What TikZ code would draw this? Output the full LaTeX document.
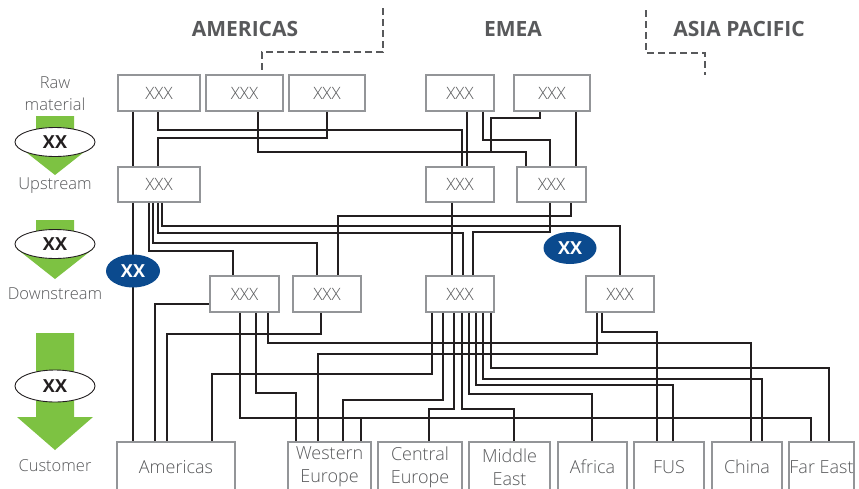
\documentclass[tikz,border=0pt]{standalone}
\usepackage{fontspec}
\setmainfont{Open Sans}
\newfontfamily\thinfont{Open Sans Light}
\usetikzlibrary{shapes.geometric}
\definecolor{textgrey}{HTML}{58595B}
\definecolor{boxgrey}{HTML}{939598}
\definecolor{wire}{HTML}{231F20}
\definecolor{flowgreen}{HTML}{7DC242}
\definecolor{navy}{HTML}{0B4A8E}

\begin{document}
\begin{tikzpicture}[x=1pt,y=-1pt,
  unit/.style={draw=boxgrey, line width=1.8pt, fill=white, minimum height=36pt,
    inner sep=0pt, font=\thinfont\fontsize{17}{17}\selectfont, text=textgrey},
  cust/.style={draw=boxgrey, line width=1.8pt, fill=white, minimum height=50pt,
    inner sep=0pt, align=center, font=\thinfont\fontsize{18}{23}\selectfont, text=textgrey},
  link/.style={draw=wire, line width=1.1pt},
  region/.style={font=\bfseries\fontsize{21}{21}\selectfont, text=textgrey, anchor=base},
  divider/.style={draw=textgrey, line width=1.5pt, dash pattern=on 7pt off 4pt},
  stage/.style={font=\thinfont\fontsize{16.5}{16.5}\selectfont, text=textgrey, anchor=base},
  badge/.style={ellipse, draw=wire, line width=0.9pt, fill=white, minimum width=80pt,
    minimum height=29pt, inner sep=0pt, font=\bfseries\fontsize{18}{18}\selectfont, text=wire},
  bluebadge/.style={ellipse, fill=navy, minimum width=54pt, minimum height=33pt,
    inner sep=0pt, font=\bfseries\fontsize{18}{18}\selectfont, text=white}
]
\useasboundingbox (0,0) rectangle (859,488);
\clip (0,0) rectangle (859,488);

% region headings and dashed separators
\node[region] (hAm) at (245,36) {AMERICAS};
\node[region] (hEm) at (513,36) {EMEA};
\node[region] (hAp) at (739,36) {ASIA PACIFIC};
\draw[divider] (383,8) |- (262,52) -- (262,70);
\draw[divider] (646,10) |- (705,53) -- (705,75);

% stage labels
\node[stage] (lRaw) at (55,88) {Raw};
\node[stage] (lMat) at (55,110) {material};
\node[stage] (lUp) at (55,189) {Upstream};
\node[stage] (lDown) at (55,299) {Downstream};
\node[stage] (lCust) at (55,471) {Customer};

% green flow arrows
\fill[flowgreen] (36,116) -- (74,116) -- (74,145) -- (93,145) -- (55,175) -- (17,145) -- (36,145) -- cycle;
\fill[flowgreen] (36,220) -- (74,220) -- (74,249) -- (93,249) -- (55,279) -- (17,249) -- (36,249) -- cycle;
\fill[flowgreen] (36,333) -- (74,333) -- (74,417) -- (93,417) -- (55,450) -- (17,417) -- (36,417) -- cycle;
\node[badge] (b1) at (55,142) {XX};
\node[badge] (b2) at (55,244) {XX};
\node[badge, minimum height=32pt] (b3) at (55,386) {XX};

% raw material units
\node[unit, minimum width=82pt] (A1) at (159,93) {XXX};
\node[unit, minimum width=77pt] (A2) at (244.5,93) {XXX};
\node[unit, minimum width=76pt] (A3) at (327,93) {XXX};
\node[unit, minimum width=68pt] (E1) at (460,93) {XXX};
\node[unit, minimum width=76pt] (E2) at (552,93) {XXX};

% upstream units
\node[unit, minimum width=82pt, minimum height=35pt] (Aup) at (159,184.5) {XXX};
\node[unit, minimum width=68pt, minimum height=35pt] (Eup1) at (460,184.5) {XXX};
\node[unit, minimum width=69pt, minimum height=35pt] (Eup2) at (551.5,184.5) {XXX};

% downstream units
\node[unit, minimum width=69pt] (D1) at (244.5,294) {XXX};
\node[unit, minimum width=68pt] (D2) at (327,294) {XXX};
\node[unit, minimum width=68pt] (Edown) at (460,294) {XXX};
\node[unit, minimum width=68pt] (APdown) at (620,294) {XXX};

% customer markets
\node[cust, minimum width=118pt] (Americas) at (176,467) {Americas};
\node[cust, minimum width=83pt] (WE) at (329.5,467) {Western\\Europe};
\node[cust, minimum width=84pt] (CE) at (420,467) {Central\\Europe};
\node[cust, minimum width=81pt] (ME) at (509.5,467) {Middle\\East};
\node[cust, minimum width=69pt] (Africa) at (592.5,467) {Africa};
\node[cust, minimum width=70pt] (FUS) at (669,467) {FUS};
\node[cust, minimum width=70pt] (China) at (747,467) {China};
\node[cust, minimum width=65pt] (FarEast) at (821.5,467) {Far East};

% raw material -> upstream
\draw[link] ([xshift=-26pt]A1.south) -- ([xshift=-26pt]Aup.north);
\draw[link] ([xshift=-1pt]A1.south) |- (462,130) -- ([xshift=2pt]Eup1.north);
\draw[link] (A3.south) |- (158,138) -- ([xshift=-1pt]Aup.north);
\draw[link] ([xshift=13.5pt]A2.south) |- (526,152) -- ([xshift=-25.5pt]Eup2.north);
\draw[link] ([xshift=7pt]E1.south) -- ([xshift=7pt]Eup1.north);
\draw[link] ([xshift=23pt]E1.south) |- (550,140) -- ([xshift=-1.5pt]Eup2.north);
\draw[link] ([xshift=-12pt]E2.south) |- (491,118) |- (526,152) -- ([xshift=-25.5pt]Eup2.north);
\draw[link] ([xshift=24pt]E2.south) -- ([xshift=24.5pt]Eup2.north);

% upstream -> downstream
\draw[link] ([xshift=-26pt]Aup.south) -- ([xshift=-43pt]Americas.north);
\draw[link] ([xshift=-10pt]Aup.south) |- (233,251) -- ([xshift=-11.5pt]D1.north);
\draw[link] ([xshift=-6pt]Aup.south) |- (317,243) -- ([xshift=-10pt]D2.north);
\draw[link] ([xshift=-1pt]Aup.south) |- (463,233) -- ([xshift=3pt]Edown.north);
\draw[link] ([xshift=3pt]Aup.south) |- (620,226) -- (APdown.north);
\draw[link] ([xshift=-8pt]Eup1.south) -- ([xshift=-8pt]Edown.north);
\draw[link] ([xshift=19.5pt]Eup2.south) |- (338,216) -- ([xshift=11pt]D2.north);
\draw[link] ([xshift=-1.5pt]Eup2.south) |- (473,232) -- ([xshift=13pt]Edown.north);

% downstream -> customers
\draw[link] ([yshift=-10pt]D1.west) -| ([xshift=-21pt]Americas.north);
\draw[link] ([xshift=-6pt]D2.south) |- (167,334) -- ([xshift=-9pt]Americas.north);
\draw[link] ([xshift=23.5pt]D1.south) |- (751,343) -- ([xshift=4pt]China.north);
\draw[link] ([xshift=11.5pt]D1.south) |- (296,393) -- ([xshift=-33.5pt]WE.north);
\draw[link] ([xshift=-4.5pt]D1.south) |- (811,418) -- ([xshift=-10.5pt]FarEast.north);
\draw[link] ([xshift=-4.5pt]D1.south) |- (361,418) -- ([xshift=31.5pt]WE.north);
\draw[link] ([xshift=-23pt]APdown.south) |- (318,354) -- ([xshift=-11.5pt]WE.north);
\draw[link] ([xshift=-18pt]APdown.south) |- (657,332) -- ([xshift=-12pt]FUS.north);
\draw[link] ([xshift=-28pt]Edown.south) |- (212,374) -- ([xshift=36pt]Americas.north);
\draw[link] ([xshift=-17pt]Edown.south) |- (343,400) -- ([xshift=13.5pt]WE.north);
\draw[link] ([xshift=-6pt]Edown.south) |- (429,409) -- ([xshift=9pt]CE.north);
\draw[link] ([xshift=2pt]Edown.south) |- (514,409) -- ([xshift=4.5pt]ME.north);
\draw[link] ([xshift=9pt]Edown.south) |- (592,394) -- ([xshift=-0.5pt]Africa.north);
\draw[link] ([xshift=16pt]Edown.south) |- (673,385) -- ([xshift=4pt]FUS.north);
\draw[link] ([xshift=23pt]Edown.south) |- (762,379) -- ([xshift=15pt]China.north);
\draw[link] ([xshift=31pt]Edown.south) |- (829,368) -- ([xshift=7.5pt]FarEast.north);

% highlighted flows
\node[bluebadge] (n1) at (133,271) {XX};
\node[bluebadge, minimum width=53pt, minimum height=32pt] (n2) at (570,248) {XX};
\end{tikzpicture}
\end{document}
